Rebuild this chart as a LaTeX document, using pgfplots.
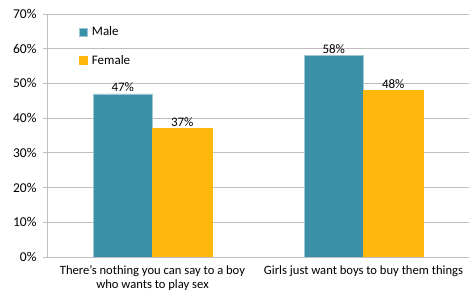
\documentclass[border=0pt]{standalone}
\usepackage{pgfplots}
\pgfplotsset{compat=1.18}
\usepackage{fontspec}
\setmainfont{Carlito}
\definecolor{teal1}{RGB}{58,144,166}
\definecolor{gold1}{RGB}{255,183,11}
\definecolor{gridg}{RGB}{190,190,190}
\begin{document}
\begin{tikzpicture}
\begin{axis}[
  scale only axis,
  width=422pt, height=243pt,
  ymin=0, ymax=70, ytick={0,10,...,70},
  xmin=-0.5, xmax=1.5,
  xtick={0,1},
  xticklabels={{There's nothing you can say to a boy\\who wants to play sex},{Girls just want boys to buy them things}},
  xticklabel style={align=center, font=\fontsize{12.6}{14}\selectfont, yshift=-1pt},
  major x tick style={draw=none},
  extra x ticks={-0.5,0.5,1.5},
  extra x tick labels={},
  extra x tick style={major tick length=5pt, tick style={draw=gridg, line width=0.8pt}, grid=none},
  yticklabel={\pgfmathprintnumber{\tick}\%},
  yticklabel style={font=\fontsize{13.5}{15}\selectfont, xshift=-3pt},
  /pgf/number format/assume math mode=true,
  axis x line*=bottom, axis y line*=left,
  axis line style={draw=gridg, line width=0.8pt},
  ytick style={draw=gridg, line width=0.8pt},
  tick align=outside,
  major tick length=4pt,
  ymajorgrids,
  grid style={draw=gridg, line width=0.8pt},
  ybar=0pt, bar width=59.5pt,
  nodes near coords={\pgfmathprintnumber{\pgfplotspointmeta}\%},
  every node near coord/.append style={font=\fontsize{13}{15}\selectfont, yshift=-1.5pt},
  legend style={draw=none, fill=none, at={(0.068,0.965)}, anchor=north west, font=\fontsize{13}{15}\selectfont, row sep=14pt, nodes={inner xsep=4.5pt}},
  legend image code/.code={\fill[#1] (0pt,-4pt) rectangle (8pt,4pt);},
  legend cell align=left,
]
\addplot[fill=teal1, draw=teal1!50!white, line width=0.5pt] coordinates {(0,47) (1,58)};
\addplot[fill=gold1, draw=gold1, line width=0.5pt] coordinates {(0,37) (1,48)};
\legend{Male, Female}
\end{axis}
\pgfresetboundingbox
\path[use as bounding box] ([shift={(-47pt,-38pt)}]current axis.south west) rectangle ([shift={(0pt,14pt)}]current axis.north east);
\end{tikzpicture}
\end{document}
